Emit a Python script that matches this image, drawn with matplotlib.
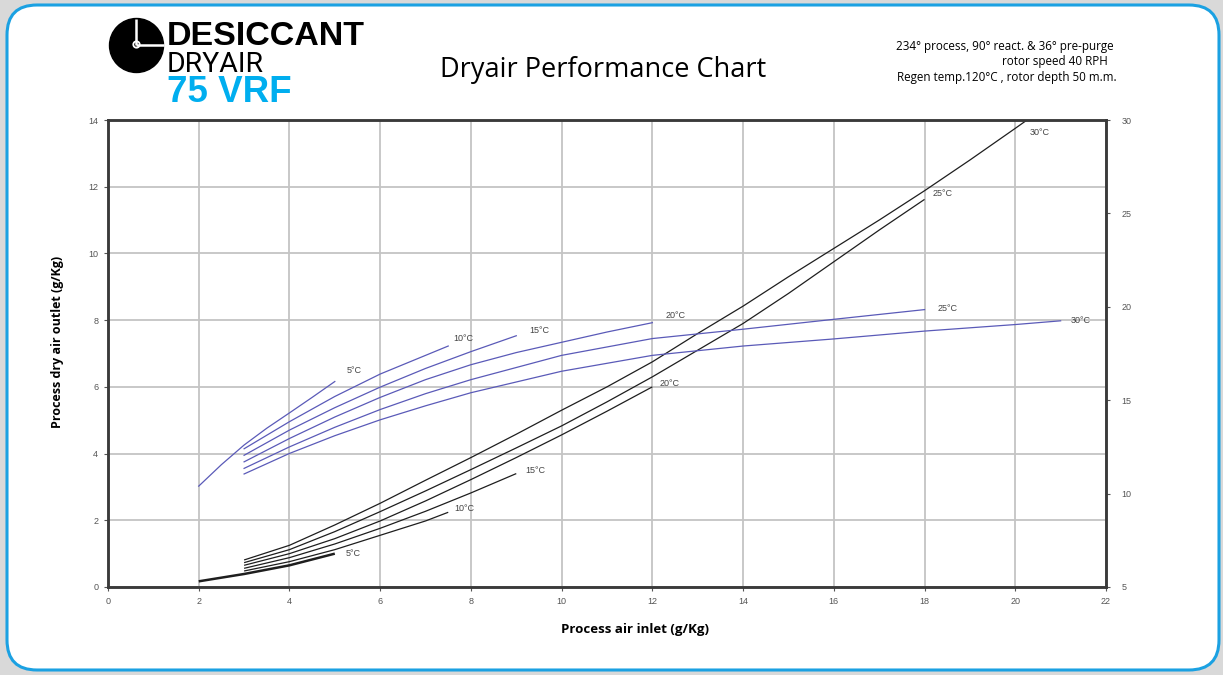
import matplotlib.pyplot as plt
from matplotlib.patches import FancyBboxPatch, Circle

# process outlet moisture (g/Kg), left axis, black curves
m5_x = [2, 3, 4, 5]
m5_y = [0.17, 0.39, 0.65, 1.0]
m10_x = [3, 4, 5, 6, 7, 7.5]
m10_y = [0.48, 0.76, 1.12, 1.55, 1.98, 2.24]
m15_x = [3, 4, 5, 6, 7, 8, 9]
m15_y = [0.56, 0.88, 1.29, 1.76, 2.27, 2.82, 3.4]
m20_x = [3, 4, 5, 6, 7, 8, 9, 10, 11, 12]
m20_y = [0.65, 1.0, 1.45, 1.98, 2.58, 3.22, 3.88, 4.56, 5.27, 6.0]
m25_x = [3, 4, 5, 6, 7, 8, 9, 10, 11, 12, 13, 14, 15, 16, 17, 18]
m25_y = [0.73, 1.12, 1.66, 2.26, 2.88, 3.52, 4.17, 4.83, 5.55, 6.3, 7.1, 7.9, 8.8, 9.75, 10.7, 11.62]
m30_x = [3, 4, 5, 6, 7, 8, 9, 10, 11, 12, 13, 14, 15, 16, 17, 18, 19, 20, 20.26]
m30_y = [0.81, 1.25, 1.86, 2.51, 3.2, 3.88, 4.58, 5.3, 6.0, 6.75, 7.6, 8.42, 9.3, 10.15, 11.0, 11.88, 12.8, 13.75, 14.0]

# process outlet temperature (°C), right axis, blue curves
t5_x = [2, 2.5, 3, 3.5, 4, 4.5, 5]
t5_y = [10.4, 11.55, 12.6, 13.5, 14.32, 15.15, 16.0]
t10_x = [3, 4, 5, 6, 7, 7.5]
t10_y = [12.4, 13.85, 15.2, 16.4, 17.4, 17.9]
t15_x = [3, 4, 5, 6, 7, 8, 9]
t15_y = [12.05, 13.4, 14.6, 15.7, 16.7, 17.6, 18.45]
t20_x = [3, 4, 5, 6, 7, 8, 9, 10, 11, 12]
t20_y = [11.7, 12.95, 14.1, 15.15, 16.1, 16.9, 17.55, 18.1, 18.65, 19.15]
t25_x = [3, 4, 5, 6, 7, 8, 10, 12, 14, 16, 18]
t25_y = [11.35, 12.5, 13.55, 14.5, 15.35, 16.1, 17.4, 18.3, 18.8, 19.33, 19.85]
t30_x = [3, 4, 5, 6, 7, 8, 10, 12, 14, 16, 18, 20, 21]
t30_y = [11.05, 12.15, 13.1, 13.95, 14.7, 15.4, 16.55, 17.4, 17.9, 18.28, 18.7, 19.05, 19.25]

labels = ['5°C', '10°C', '15°C', '20°C', '25°C', '30°C']
moist = [(m5_x, m5_y), (m10_x, m10_y), (m15_x, m15_y), (m20_x, m20_y), (m25_x, m25_y), (m30_x, m30_y)]
temps = [(t5_x, t5_y), (t10_x, t10_y), (t15_x, t15_y), (t20_x, t20_y), (t25_x, t25_y), (t30_x, t30_y)]

# label offsets from curve end (pixels)
moist_off = [(18, 0), (16, 4), (19, 3), (17, 3), (18, 6), (13, -12)]
temp_off = [(19, 11), (15, 8), (23, 5), (23, 7), (23, 1), (20, 0)]

title_font = 'Open Sans'
tick_font = 'Liberation Sans'

fig = plt.figure(figsize=(12.23, 6.75), dpi=100, facecolor='#d9d9d9')

# background layer in pixel coordinates
bg = fig.add_axes([0, 0, 1, 1], zorder=0)
bg.set_xlim(0, 1223)
bg.set_ylim(675, 0)
bg.axis('off')
bg.add_patch(FancyBboxPatch((7, 5), 1212, 665, boxstyle='round,pad=0,rounding_size=30',
                            fc='white', ec='#1ba1e2', lw=2.2))

# logo
bg.add_patch(Circle((136.5, 45.5), 27, color='black'))
bg.plot([136, 136], [19, 44.5], color='white', lw=1.8, solid_capstyle='butt')
bg.plot([136, 163.5], [44.5, 44.5], color='white', lw=1.8, solid_capstyle='butt')
bg.add_patch(Circle((136.5, 44.5), 3.2, fc='black', ec='white', lw=1.3))
bg.text(167, 45, 'DESICCANT', fontsize=24.5, fontweight='bold', family='Liberation Sans', va='baseline')
bg.text(167, 72, 'DRYAIR', fontsize=20.5, family='Roboto', va='baseline')
bg.text(167, 102, '75 VRF', fontsize=26.5, fontweight='bold', family='Liberation Sans', color='#00aeef', va='baseline')

bg.text(603, 77, 'Dryair Performance Chart', fontsize=19.5, family=title_font, ha='center', va='baseline')
bg.text(1114, 50, '234° process, 90° react. & 36° pre-purge', fontsize=8.4, family=title_font, ha='right', va='baseline')
bg.text(1108, 65, 'rotor speed 40 RPH', fontsize=8.4, family=title_font, ha='right', va='baseline')
bg.text(1117, 81, 'Regen temp.120°C , rotor depth 50 m.m.', fontsize=8.4, family=title_font, ha='right', va='baseline')

ax = fig.add_axes([108 / 1223, 88 / 675, 998 / 1223, 467 / 675], zorder=1)
ax.set_xlim(0, 22)
ax.set_ylim(0, 14)
ax.set_xticks(range(0, 23, 2))
ax.set_yticks(range(0, 15, 2))
ax.grid(color='#c4c4c4', lw=1.3)
ax.set_axisbelow(True)
for s in ax.spines.values():
    s.set_color('#3a3a3a')
    s.set_linewidth(1.8)
ax.tick_params(labelsize=6.5, colors='#555555', length=3, width=0.8, pad=4)
for t in ax.get_xticklabels() + ax.get_yticklabels():
    t.set_family(tick_font)

ax.set_xlabel('Process air inlet (g/Kg)', fontsize=9.5, fontweight='bold', family=title_font)
ax.xaxis.set_label_coords(0.528, -0.077)
ax.set_ylabel('Process dry air outlet (g/Kg)', fontsize=9, fontweight='bold', family=title_font)
ax.yaxis.set_label_coords(-0.044, 0.525)

for i, (x, y) in enumerate(moist):
    ax.plot(x, y, color='#1e1e1e', lw=1.8 if i == 0 else 0.9, solid_capstyle='butt')
    ax.annotate(labels[i], (x[-1], y[-1]), xytext=moist_off[i], textcoords='offset pixels',
                fontsize=6.5, family=tick_font, color='#444444', ha='center', va='center')

ax2 = ax.twinx()
ax2.set_ylim(5, 30)
ax2.set_yticks(range(5, 31, 5))
ax2.tick_params(labelsize=6.5, colors='#555555', length=3, width=0.8, pad=8)
for t in ax2.get_yticklabels():
    t.set_family(tick_font)
for s in ax2.spines.values():
    s.set_color('#3a3a3a')
    s.set_linewidth(1.8)

for i, (x, y) in enumerate(temps):
    ax2.plot(x, y, color='#5a5ab8', lw=0.9)
    ax2.annotate(labels[i], (x[-1], y[-1]), xytext=temp_off[i], textcoords='offset pixels',
                 fontsize=6.5, family=tick_font, color='#444444', ha='center', va='center')

fig.savefig('out.png', dpi=100, facecolor=fig.get_facecolor())
